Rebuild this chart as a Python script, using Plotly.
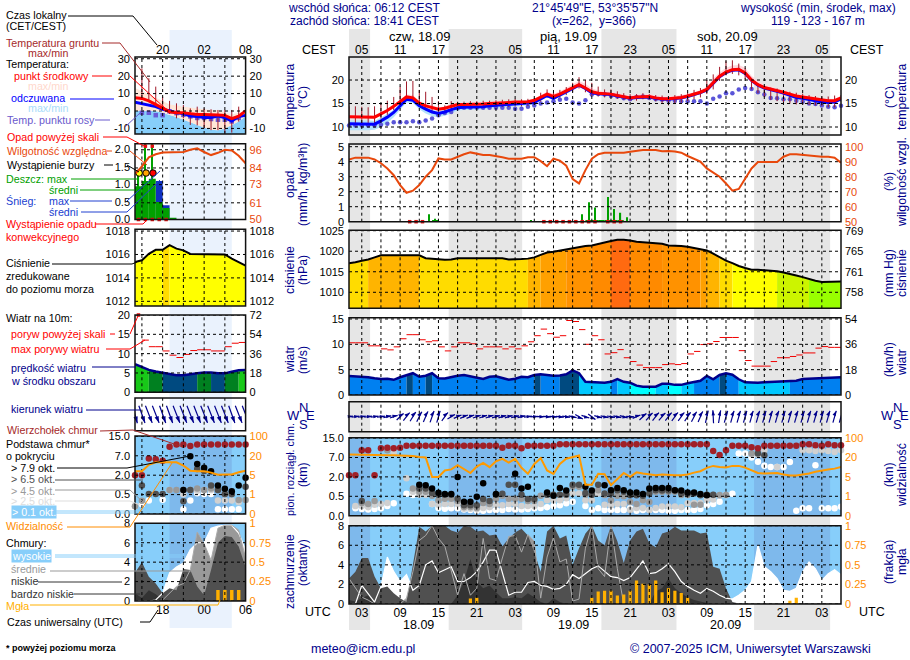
import numpy as np
import plotly.graph_objects as go

W, H = 910, 660
N = None

# hours counted from 18.09 00 UTC, main chart
hours = list(range(1, 79))
# hours counted from 17.09 00 UTC, small chart on the left
hours_s = list(range(14, 31))

night_start = [1, 16.6, 40.5, 64.4]
night_end = [4.3, 28.1, 52.25, 76.3]
night_start_s = [19]
night_end_s = [28]

# temperature
temp_mid = [12.2,12.2,12.2,12.2,12.1,12.8,13.5,14.4,15.4,16.4,16.2,15.1,14.5,14.1,13.8,14.0,14.4,14.8,14.8,14.8,14.8,14.9,15.0,15.1,15.2,15.3,15.3,15.3,15.4,15.7,16.4,17.0,16.5,17.0,17.7,18.4,19.0,18.3,17.5,17.2,17.1,17.0,16.7,16.4,16.2,16.4,16.5,16.5,16.2,16.0,16.0,16.1,16.3,16.6,17.0,17.4,18.0,19.5,20.8,21.7,22.2,22.3,21.5,20.0,19.0,18.4,18.1,17.7,17.4,17.0,16.6,16.4,16.2,16.0,15.7,15.6,15.6,16.2]
temp_max = [12.5,12.5,12.5,12.5,12.4,13.1,13.9,14.8,15.8,16.9,16.8,15.6,15.0,14.5,14.2,14.4,14.8,15.1,15.1,15.1,15.2,15.3,15.4,15.5,15.6,15.6,15.6,15.6,15.7,16.0,16.8,17.5,17.1,17.6,18.3,19.1,19.8,19.2,18.2,17.8,17.6,17.5,17.2,16.9,16.7,16.9,17.0,17.0,16.7,16.5,16.5,16.6,16.8,17.0,17.4,17.9,18.6,20.3,21.6,22.6,23.1,23.2,22.6,20.9,19.8,19.0,18.6,18.1,17.8,17.4,17.0,16.8,16.6,16.4,16.1,16.0,16.0,16.6]
temp_min = [11.9,11.9,11.9,11.9,11.8,12.5,13.2,14.0,15.0,16.0,15.8,14.7,14.1,13.7,13.5,13.7,14.0,14.5,14.5,14.5,14.5,14.6,14.7,14.8,14.9,15.0,15.0,15.0,15.1,15.4,16.1,16.6,16.1,16.6,17.2,17.9,18.5,17.8,17.0,16.8,16.7,16.6,16.3,16.0,15.8,16.0,16.1,16.1,15.8,15.6,15.6,15.7,15.9,16.2,16.6,17.0,17.6,19.0,20.3,21.2,21.7,21.8,21.0,19.5,18.6,18.0,17.7,17.4,17.1,16.7,16.3,16.1,15.9,15.7,15.4,15.3,15.3,15.9]
feels = [10.7,10.7,10.7,10.7,10.6,11.3,12.1,13.1,14.6,15.9,15.7,14.5,13.8,13.2,12.9,13.2,13.7,14.1,14.2,14.2,14.2,14.3,14.5,14.6,14.7,14.8,14.9,14.9,15.0,15.2,16.0,16.7,16.1,16.8,17.4,18.1,18.9,18.2,17.3,17.1,17.0,16.9,16.6,16.3,16.1,16.3,16.4,16.4,16.1,15.9,15.9,16.0,16.2,16.5,16.9,17.3,17.9,19.4,20.7,21.6,22.1,22.2,21.4,19.9,18.9,18.3,18.0,17.6,17.2,16.8,16.3,16.1,15.9,15.6,15.3,15.2,15.3,16.0]
feels_max = [11.4,11.4,11.4,11.4,11.3,12.0,12.8,13.7,15.1,16.3,16.1,15.0,14.2,13.7,13.4,13.7,14.1,14.4,14.5,14.5,14.5,14.6,14.8,14.9,15.0,15.1,15.2,15.2,15.3,15.5,16.3,17.0,16.5,17.1,17.7,18.5,19.3,18.6,17.7,17.4,17.3,17.2,16.9,16.6,16.4,16.6,16.7,16.7,16.4,16.2,16.2,16.3,16.5,16.8,17.2,17.6,18.2,19.7,21.0,21.9,22.4,22.5,21.7,20.2,19.2,18.6,18.3,17.9,17.5,17.1,16.6,16.4,16.2,15.9,15.6,15.5,15.6,16.3]
feels_min = [9.3,9.3,9.3,9.3,9.4,10.0,10.9,12.1,13.7,15.2,15.1,13.8,12.9,12.3,12.1,12.4,12.9,13.5,13.6,13.6,13.7,13.8,14.0,14.1,14.2,14.3,14.4,14.5,14.6,14.9,15.7,16.4,15.8,16.4,17.0,17.8,18.6,17.9,17.0,16.8,16.8,16.7,16.4,16.1,15.9,16.1,16.2,16.2,15.9,15.7,15.7,15.8,16.0,16.3,16.7,17.1,17.7,19.2,20.5,21.4,21.9,22.0,21.2,19.7,18.7,18.1,17.8,17.4,17.0,16.5,16.0,15.8,15.6,15.3,15.0,14.9,15.0,15.7]
dew = [10.3,10.3,10.3,10.3,10.3,10.5,10.7,11.0,11.0,11.0,11.2,11.0,11.4,11.8,12.5,13.0,13.2,14.0,14.1,14.1,14.1,14.1,14.1,14.1,14.1,14.1,13.9,13.9,14.3,14.6,15.0,15.2,15.5,15.8,16.0,15.2,15.0,15.7,16.9,17.0,16.9,16.6,16.5,16.1,15.9,16.4,16.5,16.2,15.9,15.8,15.6,15.6,15.5,15.5,15.5,15.5,15.0,16.0,16.5,17.2,17.2,18.0,18.3,18.1,17.4,16.9,16.2,16.1,15.9,15.9,15.6,15.4,15.0,14.9,14.6,14.3,14.2,14.5]
ground_max = [14.4,14.4,14.3,14.2,14.4,15.0,15.6,16.4,18.6,19.7,19.8,17.9,17.5,16.4,15.5,14.6,15.5,15.4,15.4,15.5,15.5,15.6,15.6,15.7,15.8,15.9,16.0,15.9,16.0,16.2,17.3,18.0,17.3,17.9,18.5,19.4,20.6,20.0,19.4,18.6,18.0,18.0,17.6,17.2,17.0,17.0,17.2,17.0,16.8,16.7,16.6,16.8,17.0,17.3,17.9,18.3,20.0,21.2,22.8,24.0,24.2,23.5,22.5,20.3,19.0,18.6,18.4,18.2,17.8,17.5,17.3,17.1,16.8,16.6,16.5,16.5,16.7,16.8]
ground_min = [10.4,10.4,10.4,10.5,10.8,11.8,12.6,13.6,14.7,15.7,15.6,14.4,13.6,13.2,13.0,13.4,13.8,14.0,14.0,14.0,14.0,14.1,14.2,14.2,14.3,14.3,14.4,14.4,14.5,14.8,15.4,16.2,16.0,16.2,16.8,17.5,18.2,17.4,16.6,16.5,16.3,16.3,16.0,15.8,15.6,15.6,15.9,15.9,15.5,15.0,14.6,15.0,15.2,15.5,15.9,16.3,17.0,18.0,19.8,21.0,21.3,21.0,20.3,18.0,17.2,16.4,15.8,15.5,15.2,15.0,14.8,14.8,14.7,14.6,14.5,14.2,14.2,15.4]

temp_mid_s = [7.6,7.2,5.8,3.8,1.5,-0.4,-1,-1,-1.5,-2,-2,-2,-2.3,-2.5,-4.4,-3,0]
temp_max_s = [13.2,11.4,9.5,7.6,5.7,3.8,3.2,2.5,2,1.5,1,0.6,0.6,-1,-2,-1,0]
feels_s = [5,4.3,3.6,2.5,1,0,-1,-1.5,-2.9,-3.2,-3.8,-3.8,-2.9,-3.8,-5.7,-3.2,-2.5]
feels_top_s = [0,0,0,0,-1,-2.3,-3.5,-5,-6.5,-8,-9.5,-10.8,-11,-10,-8,-6,-3]
dew_s = [N,-1,-1,-2.4,-2.4,-0.2,-1.2,-2.2,-3.1,-4,-4,-4.6,-5,-5,-6,-4,N]
ground_max_s = [N,24.5,18.8,14,8.2,5.8,4.4,3.4,1.5,2.5,1.5,1,0.6,0.6,0.6,2.5,N]
ground_min_s = [N,7.7,6.3,3.4,1,-1.7,-4.2,-4.2,-8,-8.2,-10,-11,-11,-12.8,-12.4,-6.1,N]

# precipitation, per hour interval
rain_max = [0,0,0,0,0,0,0,0,0,0,0,0,0.5,0.2,0.03,0,0,0,0,0,0,0,0,0,0,0,0,0,0.05,0,0,0,0,0,0,0,0.5,1.3,0.95,0.1,1.65,0.85,0.6,0.3,0,0,0,0,0,0,0,0,0,0,0,0,0,0,0,0,0,0,0,0,0,0,0,0,0,0,0,0,0,0,0,0,0]
rain_mean = [0,0,0,0,0,0,0,0,0,0,0,0,0,0.1,0,0,0,0,0,0,0,0,0,0,0,0,0,0,0,0,0,0,0,0,0,0,0,0.1,0.12,0.1,0.1,0.05,0.05,0,0,0,0,0,0,0,0,0,0,0,0,0,0,0,0,0,0,0,0,0,0,0,0,0,0,0,0,0,0,0,0,0,0]
conv_hours = [10.5,11.5,12.5,31.5,32.5,33.5,34.5,35.5,36.5,37.5,38.5,39.5,41.5,42.5,43.5]
humidity = [91.5,92.7,92.7,92.7,91.5,89,85.5,81,74.4,69.3,70.7,74.4,80,84.4,92.2,91.5,91.5,93.3,95,96.2,95.5,94.4,94.4,93.8,92.9,92,92,92,93,93,90.4,87,92,90.7,87.3,78.4,75.5,84.4,92,95,96,96,96,96,96.7,97.3,97.8,97.8,97.8,97,97.2,96.8,96,93.8,91.8,90,85.5,82.6,80,75.5,70.7,71.8,78.9,85.5,89.8,89.8,89.8,89.8,93.3,94.9,94.9,94.4,94,93.6,93.3,93.3,92.7,89.3]

rain_mean_s = [0.95,1.1,1.17,0.5,0.33,0.03,0,0,0,0,0,0,0,0,0,0]
snow_mean_s = [0,0,0,1.1,0.41,0,0,0,0,0,0,0,0,0,0,0]
rain_max_s = [1.4,3,3,0,0,0,0,0,0,0,0,0,0,0,0,0]
storm_hours_s = [14.6,15.6,16.6]
storm_colors_s = ["#ffff00","#ffa500","#ff0000"]
conv_hours_s = [14.5,15.5,16.5,17.5,18.5]
humidity_s = [80,85,91,93,94.2,94.5,94.6,94.6,96,97,94.5,92.5,94,96,95.5,92,87]

# pressure
pressure = [1017.1,1017.3,1017.7,1018,1018.5,1019,1019,1019,1019,1019,1019,1019,1018.3,1018.2,1018,1017.9,1018,1018.3,1018.3,1018.3,1018.3,1018.3,1018.3,1018.3,1018.3,1018,1018,1018.1,1018.2,1018.5,1019.1,1019.7,1019.9,1020.2,1020.5,1020.7,1021,1021.3,1021.4,1021.8,1022.1,1022.5,1022.8,1022.8,1022.6,1022.3,1022.2,1022.1,1022,1021.8,1021.4,1021.4,1021.3,1021.1,1020.8,1020.6,1020.2,1019.4,1018.5,1017.7,1017.1,1016.4,1015.9,1015.5,1015.5,1015.4,1015.3,1015.1,1014.8,1014.5,1014.1,1013.7,1013.2,1012.8,1012.5,1012.5,1012.6,1012.6]
pressure_s = [1015.35,1015.5,1016.05,1016.4,1016.4,1016.8,1016.5,1016.35,1016.05,1016.05,1016.05,1016.05,1016.05,1016,1015.65,1015.35,1015.05]

# wind
wind = [3.75,3.7,3.65,3.5,3.3,3.15,3.2,3,3.5,3.95,4.3,3.6,3.8,4.3,3.3,3.25,3.6,3.8,3.95,3.7,3.4,3.15,3.6,3.7,3.35,3,3.2,3.6,3.5,3.95,4.1,4.0,3.8,3.85,4.1,4.85,4.3,2.6,2.5,2.5,2.4,2.6,3.15,2.6,2.4,1.85,1.65,1.65,1.65,2.2,2.2,2,2,2.3,2.6,2.8,3.75,3.1,3.95,4.3,4.0,3.1,2.5,2.4,2.4,2.5,2.55,2.6,2.6,2.6,2.8,3.15,3.2,3.2,3.3,3.35,3.4,3.5]
gust = [10.3,10.3,10.3,9.7,9.7,9.1,8.9,9.5,11.1,11.9,11.9,10.9,10.5,10.7,9.5,8.7,9.5,10.3,10.3,10.1,9.1,9.5,9.5,9.5,9.1,9.5,9.1,9.7,10.5,11.7,13.0,12.1,11.4,11.7,14.7,14.5,12.9,10.0,11.7,10.9,8.1,8.35,8.95,7.35,6.6,5.9,5.4,5.4,5.4,6.0,6.15,6.0,6.2,8.1,8.6,9.95,10.1,10.55,11.35,11.35,11.35,8.75,6.8,5.7,5.7,5.7,6.6,7.35,7.35,7.6,7.9,8.3,8.3,9.25,9.55,9.4,9.4]
wind_dir = [265,265,265,265,265,265,262,258,240,232,225,220,215,210,205,230,250,255,255,255,258,258,258,260,260,260,262,262,265,268,270,272,272,274,275,278,290,282,295,280,278,276,278,280,272,255,240,235,232,235,232,230,230,228,220,215,200,175,195,205,205,205,205,205,205,205,205,205,205,205,205,205,205,205,205,205,205,205]

wind_s = [7.3,6.5,5.8,5.4,5.1,4.7,4.4,4.4,4.7,4.9,5.1,5.1,4.9,4.9,5.3,5.7,5.8]
gust_s = [21,13.5,11.8,11.8,10.7,9.6,9,9.8,10.8,11,11,10.7,10.7,11.8,12.7,12.9]
wind_dir_s = [345,340,338,338,340,340,338,338,338,338,338,338,338,338,340,338,338]

# cloud tops and bases (km), visibility (km)
cloud_top = [2.4,2.4,10,10,2.4,10.8,11,10.8,11,11.8,11.8,11.8,11.8,11.8,11.8,11.8,11.8,11.8,11.8,11.8,11.8,11.8,11.8,11.8,11,11.8,11.8,10.8,11.8,11.8,11.8,11.8,11.8,12.5,12.5,12.5,12.5,12.5,12.5,12.5,12.5,12.5,12.5,12.5,12.5,12.5,12.5,12.5,12.5,12.5,12.5,12.5,12.5,12.5,12.5,12.5,12.5,9.7,8,10,11.8,11.8,11.8,11.2,10.8,11.8,11.8,11.8,11.8,11.8,11.8,12.5,12.5,12,11.8,12.5,12,12]
base_79 = [N,N,N,N,N,N,N,N,N,N,N,1.4,1.36,1.1,.77,.68,.68,2,.36,.36,.49,1.5,N,.68,N,N,2.8,1.1,1.23,N,N,.8,.55,1.15,.95,N,N,1.23,.95,N,1.36,.97,1.15,.97,.8,.8,.68,1.1,1.15,1.15,1.15,.97,.95,.8,.8,.68,.59,N,N,N,N,N,N,N,N,N,N,N,N,N,N,N,N,N,N,N,N,N]
base_65 = [N,N,.38,N,N,N,N,N,N,N,N,1.1,1.1,.75,.62,.62,.62,.44,.27,.27,.27,.43,.38,.62,.7,1.4,1.4,.62,.43,.43,N,.62,.62,.62,.62,1.4,1.4,.75,.62,1.4,.72,.72,.97,.85,.59,.59,.55,.72,.97,.95,.95,.95,.72,.72,.72,.59,.62,.62,N,N,N,N,N,N,8.6,7.9,N,N,N,N,N,N,N,N,N,N,N,N]
base_45 = [N,N,.33,.3,.38,N,10,N,N,N,1.1,.85,.85,.55,.4,.44,.44,.38,.22,.22,.2,.33,.3,.44,.55,.44,.44,.44,.38,.38,.55,.62,.62,.62,.72,1.23,1.23,.62,.62,.97,.6,.4,.55,.5,.35,.3,.4,.35,.85,.85,.85,.85,.6,.6,.28,.28,.6,.6,.6,.6,N,N,N,8.6,9,N,N,N,N,N,N,N,N,N,N,N,N,N]
base_25 = [N,.25,.25,.22,.28,.3,.33,9.2,N,1.9,.85,.62,.62,.3,.28,.3,.3,.3,.18,.18,.17,.2,.22,.28,.27,.3,.3,.25,.25,.25,.3,.4,.4,.4,.45,.72,.72,.4,.4,.72,.28,.27,.3,.3,.15,.2,.2,.15,.2,.24,.24,.24,.22,.32,.33,.33,.42,.42,.55,.6,N,N,N,8.3,8,10,N,4.55,N,N,N,10,10,9.7,10,9.7,9.3,10]
base_01 = [N,.19,.17,.16,.17,.19,.25,.32,N,.7,.6,.72,.9,.3,.2,.18,.19,.19,.16,.15,.13,.13,.15,.15,.15,.17,.16,.16,.17,.19,.2,.22,.25,.27,.32,.36,N,.25,.15,.19,.15,.15,.15,.15,.19,.13,.15,.15,.15,.15,.13,.13,.15,.15,.15,.17,.27,.3,.36,.6,.7,8.6,8.6,7,5.9,4.9,4.55,4.55,4.55,5.85,.13,.19,.19,5,.19,.19,.19,.23]
visibility = [32,31,30,30,30,29,29,29,28,28,26,22,20,5,5,10,10.8,14,10.8,8,13,15.8,12.5,17,19,16,19,12,7.4,15,19.5,10,7.3,15,19,22,28,3.4,3.4,7.4,7,3.3,4.6,8,5.1,8.5,7.6,6.8,6.3,6.8,6.3,6.3,6.3,6.8,8.3,9.4,12,13.5,12.7,12.2,13.5,13.5,12.2,10,8,7.6,7.6,8,6.8,6,6,6.8,7.6,9,10,10.7,11.4,12.7]

cloud_top_s = [2,2,6.3,6.1,5.7,10.7,11.7,11.7,11,11.7,11.7,11.7,11.7,11.7,11.7,11.7,11.7]
base_79_s = [N,N,N,N,N,N,N,.85,6.9,4.9,3.9,3,1.2,.95,.75,1.2,1.8]
base_65_s = [N,1.2,.55,.55,.55,N,N,.33,.85,3.6,3.1,1.2,.85,.55,.55,N,1.1]
base_45_s = [.2,.34,N,N,N,.85,.85,.85,.85,.97,.85,.97,.85,.55,.53,.36,.36]
base_25_s = [.2,N,N,N,N,.85,N,.53,.85,.8,.85,.85,.35,.35,.35,.3,N]
base_01_s = [N,.25,.35,N,.37,N,N,.12,.35,.6,.55,.55,.12,.12,.12,.12,N]
visibility_s = [8,8,13,15,15,15,15,12.5,8.5,8,8,7,5.3,5.5,5.5,7.3,8.4]

# cloud cover (oktas), fog fraction
cloud_high = [0,0,1.9,1.1,0.2,1.8,4.8,3.3,2.3,3,1.4,1.9,4,4.4,3.2,3.5,3.8,2.3,2.3,2.7,3.3,4.3,5.5,5.5,3.1,0.9,1.2,1.2,2.2,2.3,1.9,1.8,1.5,1.6,2,3,2.6,3.1,3.6,3.9,3.3,2.8,2.7,2.4,2.7,3.6,4.4,3.1,3.2,3.6,4.1,3.3,2.3,1.8,1.4,1.1,1.6,1.3,0.9,0.6,0.5,0.9,1.4,2.3,6,3.8,3.3,2.6,1.4,1.3,1.6,3.3,4.3,3.6,2.4,3.1,3.5,3]
cloud_mid = [2.6,1.6,0.7,0.4,0,0,0,0,0,0.6,3.3,6.5,7,8,6.7,5.9,3.3,0.9,3.1,0.9,1.6,6.7,2.6,2.4,4.7,6.9,7,5.3,7.1,6.4,0.6,4.8,6.8,4.3,4.6,0.3,0.5,5.7,8,3.6,2.8,8,3.6,0,0,0,0,0,0,0,0,0,0,0,0,0,0,0,0,0,0,0,0,0,0,0,0,0,0,0,0,0,0,0,0,0,0,0]
cloud_low = [2.6,3.3,4.7,4.7,2.8,1.6,1.8,1.1,0.6,0.2,4,7.9,7.4,8,8,8,7.5,7.3,8,7.9,7.4,7.5,7,7.1,5.9,6.7,7.3,7.7,7,5.3,3.3,7.4,8,6.7,7,4,5.7,7.2,8,6.5,6,8,6.4,4.2,6.5,7.4,7.7,6.2,5.8,7.2,7.4,7.9,7.5,7.5,7.5,7.2,7.3,3.8,3.6,1.6,0.2,0.05,0.05,0.05,0.05,0.05,0.05,0.05,0.05,0.05,0.05,0.05,0.05,0.05,0.05,0.05,0.05,0.1]
cloud_vlow = [0.4,0.25,0.6,0.9,0,0,0,0,0,0,0,0,0,0,0,0,0,0.9,2.3,4.6,2.3,1.6,1.9,1.2,0.6,0.6,0.7,0.6,1.1,0.7,0.2,0,0.6,0.2,0,0,0,0,0,0,0,0,0,0,0,0,0,0,1.3,1.6,2.6,1.6,1.1,0.7,0.4,0.25,0.1,0,0,0,0,0,0,0,0,0,0,0,0,0,0,0,0,0,0,0,0,0]
fog = [0,0,0,0,0,0,0,0,0,0,0,0,0,0,0,0,0,0,0,.07,.08,0,0,0,0,0,0,0,0,0,0,0,0,0,0,0,0,0,.08,.16,.17,.17,.11,.12,.17,.3,.26,.25,.3,.15,.2,.17,.14,.08,0,0,0,0,0,0,0,0,0,0,0,0,0,0,0,.04,.08,0,0,0,0,0,0,0]

cloud_high_s = [0,0,0,0.1,0.8,2.9,3.5,3.9,5.3,6,6,7.5,7.7,7.8,7.8,7,5.3]
cloud_mid_s = [0,0,0,0,0.1,0.8,1.5,1.8,3.2,7.1,5.9,4.2,7.5,7.8,7.8,7.3,4.4]
cloud_low_s = [2.9,4,2.5,1.8,0.8,1.3,1.1,3.3,3.2,1.5,0.6,3.2,6,6.7,6.6,5.6,3.5]
cloud_vlow_s = [0.8,0.3,1.1,0.7,0.1,0,0,0,0,0,0,0,0,0,0,0,0]
fog_s = [0,0,0,0,0,0,0,0,0,0,0,0,.14,.14,.14,.14,0]

# tick labels
local_ticks = [3,9,15,21,27,33,39,45,51,57,63,69,75]
local_text = ["05","11","17","23","05","11","17","23","05","11","17","23","05"]
utc_text = ["03","09","15","21","03","09","15","21","03","09","15","21","03"]
local_ticks_s = [18,24,30]
local_text_s = ["20","02","08"]
utc_text_s = ["18","00","06"]
grid_hours = list(range(3, 78, 3))
grid_hours_s = [15,18,21,24,27]
height_levels = [0,0.5,2,7,15]
height_text = ["0.0","0.5","2.0","7.0","15.0"]
vis_levels = [0,1,5,20,100]
vis_text = ["0","1","5","20","100"]

FONT = "Liberation Sans"
NAVY = "#00008c"
SKY = "#87cefa"
RHC = "#e8480c"
ORG = "#ff8c00"

for name, arr, n in [("temp_mid",temp_mid,78),("temp_max",temp_max,78),("temp_min",temp_min,78),("feels",feels,78),
                     ("feels_max",feels_max,78),("feels_min",feels_min,78),("dew",dew,78),("ground_max",ground_max,78),
                     ("ground_min",ground_min,78),("rain_max",rain_max,77),("rain_mean",rain_mean,77),("humidity",humidity,78),
                     ("pressure",pressure,78),("wind",wind,78),("gust",gust,77),("wind_dir",wind_dir,78),("cloud_top",cloud_top,78),
                     ("base_79",base_79,78),("base_65",base_65,78),("base_45",base_45,78),("base_25",base_25,78),("base_01",base_01,78),
                     ("visibility",visibility,78),("cloud_high",cloud_high,78),("cloud_mid",cloud_mid,78),("cloud_low",cloud_low,78),
                     ("cloud_vlow",cloud_vlow,78),("fog",fog,78)]:
    assert len(arr) == n, (name, len(arr))

fig = go.Figure()
layout = {}
shapes = []
annots = []
panel_count = 0


def px(x):
    return x / W


def py(y):
    return 1 - y / H


def add_panel(x0, x1, y0, y1, x_range, y_range, y_ticks, y_text, r_range, r_ticks, r_text, r_color="black"):
    global panel_count
    panel_count += 1
    i = panel_count
    yl, yr = 2 * i - 1, 2 * i
    tick = dict(family=FONT, size=11)
    layout[f"xaxis{i}"] = dict(domain=[px(x0), px(x1)], range=x_range, anchor=f"y{yl}", showgrid=False, automargin=False,
                               zeroline=False, showticklabels=False, ticks="")
    layout[f"yaxis{yl}"] = dict(domain=[py(y1), py(y0)], range=y_range, anchor=f"x{i}", showgrid=False, zeroline=False, automargin=False,
                                tickvals=y_ticks, ticktext=y_text, ticks="", ticklabelstandoff=4, tickfont=dict(color="black", **tick))
    layout[f"yaxis{yr}"] = dict(domain=[py(y1), py(y0)], range=r_range, anchor=f"x{i}", overlaying=f"y{yl}", side="right",
                                showgrid=False, zeroline=False, automargin=False, tickvals=r_ticks, ticktext=r_text, ticks="",
                                ticklabelstandoff=3, tickfont=dict(color=r_color, **tick))
    return dict(x=f"x{i}", y=f"y{yl}", r=f"y{yr}", xkey=f"xaxis{i}", box=(x0, x1, y0, y1), r_ticks=r_ticks,
                x_range=x_range, r_range=r_range)


def grid(p, hours_list, with_h=True):
    xs, ys = [], []
    for h in hours_list:
        xs += [h, h, None]
        ys += [p["r_range"][0], p["r_range"][1], None]
    if with_h:
        for v in p["r_ticks"]:
            xs += [p["x_range"][0], p["x_range"][1], None]
            ys += [v, v, None]
    fig.add_trace(go.Scatter(x=xs, y=ys, xaxis=p["x"], yaxis=p["r"], mode="lines", hoverinfo="skip",
                             line=dict(color="black", width=1, dash="3px,3px")))


def band(p, x, hi, lo, color):
    x = list(x)
    fig.add_trace(go.Scatter(x=x + x[::-1], y=list(hi) + list(lo)[::-1], xaxis=p["x"], yaxis=p["y"], mode="none",
                             fill="toself", fillcolor=color, hoverinfo="skip"))


def line(p, x, y, color, width, axis="y"):
    fig.add_trace(go.Scatter(x=list(x), y=list(y), xaxis=p["x"], yaxis=p[axis], mode="lines", hoverinfo="skip",
                             line=dict(color=color, width=width)))


def dots(p, x, y, color, size, symbol="circle", axis="y"):
    fig.add_trace(go.Scatter(x=list(x), y=list(y), xaxis=p["x"], yaxis=p[axis], mode="markers", hoverinfo="skip",
                             cliponaxis=False, marker=dict(color=color, size=size, symbol=symbol, line=dict(width=0))))


def bars(p, x, y, color, width, axis="y", base=None):
    fig.add_trace(go.Bar(x=list(x), y=list(y), xaxis=p["x"], yaxis=p[axis], width=width, base=base, hoverinfo="skip",
                         marker=dict(color=color, line=dict(width=0))))


def stems(p, x, hi, lo, color, width=1):
    xs, ys = [], []
    for a, b, c in zip(x, hi, lo):
        if b is None or c is None:
            continue
        xs += [a, a, None]
        ys += [b, c, None]
    line(p, xs, ys, color, width)


def cell_fill(p, x, y, color_of, base):
    # one polygon per run of hours falling in the same colour class
    cols = [color_of(v) for v in y[1:]]
    s = 0
    for e in range(1, len(cols) + 1):
        if e == len(cols) or cols[e] != cols[s]:
            rx, ry = list(x[s:e + 1]), list(y[s:e + 1])
            band(p, rx, ry, [base] * len(ry), cols[s])
            s = e


def pressure_color(v):
    limits = [1013, 1015, 1016.7, 1018.3, 1019.5, 1020.5, 1021.5, 1022.55]
    palette = ["#99ff00", "#ccf400", "#ffff00", "#ffdc00", "#ffb400", "#ffa000", "#ff9200", "#ff8a00", "#ff6a10"]
    return palette[int(np.searchsorted(limits, v))]


def wind_color(v):
    limits = [2.1, 2.75, 4.0, 5.0, 5.75]
    palette = ["#00ffff", "#00c8ff", "#0080f0", "#004a80", "#008020", "#18c818"]
    return palette[int(np.searchsorted(limits, v))]


def wind_arrows(p, x, dirs, px_per_hour, lx, ly, head):
    toward = (np.array(dirs, dtype=float) + 180) % 360
    dx = np.sin(np.radians(toward)) * lx / px_per_hour
    dy = np.cos(np.radians(toward)) * ly
    xs, ys = [], []
    for a, b, c in zip(x, dx, dy):
        xs += [a - b / 2, a + b / 2, None]
        ys += [-c / 2, c / 2, None]
    fig.add_trace(go.Scatter(x=xs, y=ys, xaxis=p["x"], yaxis=p["y"], mode="lines", hoverinfo="skip", cliponaxis=False,
                             line=dict(color="#00008c", width=1.2)))
    fig.add_trace(go.Scatter(x=list(np.array(x) + dx / 2), y=list(dy / 2), xaxis=p["x"], yaxis=p["y"], mode="markers",
                             hoverinfo="skip", cliponaxis=False,
                             marker=dict(symbol="arrow", size=head, angle=list(toward), color="#00008c", line=dict(width=0))))


def gust_segments(x, g, cap):
    xs, ys = [], []
    for a, v in zip(x, g):
        if v > cap:
            continue
        xs += [a, a + 1, None]
        ys += [v, v, None]
    return xs, ys


def rect(box, color, layer="below", line_color=None, width=0):
    x0, x1, y0, y1 = box
    shapes.append(dict(type="rect", xref="paper", yref="paper", x0=px(x0), x1=px(x1), y0=py(y1), y1=py(y0),
                       fillcolor=color, layer=layer, line=dict(color=line_color or color, width=width)))


def text(x, y, s, color="black", anchor="left", size=12, angle=0, bg=None, bold=False):
    annots.append(dict(x=px(x), y=py(y), xref="paper", yref="paper", text=f"<b>{s}</b>" if bold else s, showarrow=False,
                       xanchor=anchor, yanchor="middle", textangle=angle, bgcolor=bg, borderpad=0,
                       font=dict(family=FONT, size=size, color=color)))


def lead(pts, color, width=1):
    path = "M " + " L ".join(f"{px(a)} {py(b)}" for a, b in pts)
    shapes.append(dict(type="path", xref="paper", yref="paper", path=path, layer="above", line=dict(color=color, width=width)))


# panels
mx0, mx1 = 349, 841
sx0, sx1 = 135, 245.6
mr = [1, 78]
sr = [14, 30]

t_m = add_panel(mx0, mx1, 57, 135, mr, [8.3, 24.9], [10,15,20], ["10","15","20"], [8.3, 24.9], [10,15,20], ["10","15","20"])
p_m = add_panel(mx0, mx1, 144, 221.7, mr, [0, 5.18], [0,1,2,3,4,5], ["0","1","2","3","4","5"], [50, 101.8], [50,60,70,80,90,100], ["50","60","70","80","90","100"], RHC)
c_m = add_panel(mx0, mx1, 230.3, 308.3, mr, [1006.1, 1025.1], [1010,1015,1020,1025], ["1010","1015","1020","1025"], [1006.1, 1025.1], [1010,1015,1020,1025], ["758","761","765","769"])
w_m = add_panel(mx0, mx1, 317.7, 395, mr, [0, 15.25], [0,5,10,15], ["0","5","10","15"], [0, 15.25], [0,5,10,15], ["0","18","36","54"])
d_m = add_panel(mx0, mx1, 401.7, 431.7, mr, [-15, 15], [], [], [-15, 15], [], [])
b_m = add_panel(mx0, mx1, 437.7, 515.7, mr, [0, 4.02], [0,1,2,3,4], height_text, [0, 4.02], [0,1,2,3,4], vis_text, ORG)
k_m = add_panel(mx0, mx1, 525.7, 604, mr, [0, 8], [0,2,4,6,8], ["0","2","4","6","8"], [0, 1], [0,.25,.5,.75,1], ["0","0.25","0.5","0.75","1"], ORG)

t_s = add_panel(sx0, sx1, 57, 134, sr, [-13.2, 31], [-10,0,10,20,30], ["-10","0","10","20","30"], [-13.2, 31], [-10,0,10,20,30], ["-10","0","10","20","30"])
p_s = add_panel(sx0, sx1, 143.7, 219.5, sr, [0, 2.17], [0,.5,1,1.5,2], ["0.0","0.5","1.0","1.5","2.0"], [50, 100], [50,61,73,84,96], ["50","61","73","84","96"], RHC)
c_s = add_panel(sx0, sx1, 229.3, 306, sr, [1011.6, 1018.15], [1012,1014,1016,1018], ["1012","1014","1016","1018"], [1011.6, 1018.15], [1012,1014,1016,1018], ["1012","1014","1016","1018"])
w_s = add_panel(sx0, sx1, 315, 392.3, sr, [0, 20], [0,5,10,15,20], ["0","5","10","15","20"], [0, 20], [0,5,10,15,20], ["0","18","36","54","72"])
d_s = add_panel(sx0, sx1, 398, 430.7, sr, [-16, 16], [], [], [-16, 16], [], [])
b_s = add_panel(sx0, sx1, 436, 514, sr, [0, 4.02], [0,1,2,3,4], height_text, [0, 4.02], [0,1,2,3,4], vis_text, ORG)
k_s = add_panel(sx0, sx1, 523.3, 601, sr, [0, 8], [0,2,4,6,8], ["0","2","4","6","8"], [0, 1], [0,.25,.5,.75,1], ["0","0.25","0.5","0.75","1"], ORG)

for p, ticks, labels, side in [(t_m, local_ticks, local_text, "top"), (k_m, local_ticks, utc_text, "bottom"),
                               (t_s, local_ticks_s, local_text_s, "top"), (k_s, local_ticks_s, utc_text_s, "bottom")]:
    layout[p["xkey"]].update(showticklabels=True, tickvals=ticks, ticktext=labels, side=side,
                             tickfont=dict(family=FONT, size=12, color="black"))

main_panels = [t_m, p_m, c_m, w_m, d_m, b_m, k_m]
small_panels = [t_s, p_s, c_s, w_s, d_s, b_s, k_s]


def hour_x(h):
    return mx0 + (h - 1) * (mx1 - mx0) / 77


def hour_xs(h):
    return sx0 + (h - 14) * (sx1 - sx0) / 16


# night bands, full height behind the panels
for a, b in zip(night_start, night_end):
    rect((hour_x(a), hour_x(b), 29, 630), "#e6e6e6")
for a, b in zip(night_start_s, night_end_s):
    rect((hour_xs(a), hour_xs(b), 30, 628), "#eaf2fd")

# sky coloured cloud panels with the night showing through
for p, starts, ends, conv in [(b_m, night_start, night_end, hour_x), (k_m, night_start, night_end, hour_x),
                              (b_s, night_start_s, night_end_s, hour_xs), (k_s, night_start_s, night_end_s, hour_xs)]:
    rect(p["box"], SKY)
    for a, b in zip(starts, ends):
        rect((conv(a), conv(b), p["box"][2], p["box"][3]), "#7eb9ec")

# main chart
band(t_m, hours, feels_max, feels_min, "#b4e2fb")
band(t_m, hours, temp_max, temp_min, "#ffd6dc")
dots(t_m, hours, dew, "#5a55d8", 4.5)
stems(t_m, hours, ground_max, ground_min, "#a01828")
line(t_m, hours, feels, "#0000ff", 3)
line(t_m, hours, temp_mid, "#ff0000", 3)
grid(t_m, grid_hours)

bars(p_m, [h + 0.5 for h in hours[:-1]], rain_mean, "#00a000", 1)
bars(p_m, [h + 0.5 for h in hours[:-1]], rain_max, "#00a000", 0.18)
grid(p_m, grid_hours)
line(p_m, hours, humidity, RHC, 2, axis="r")
dots(p_m, conv_hours, [0] * len(conv_hours), "#e01010", 3.5, "square")

cell_fill(c_m, hours, pressure, pressure_color, 1006.1)
line(c_m, hours, pressure, "#000000", 2)
grid(c_m, grid_hours)

cell_fill(w_m, hours, wind, wind_color, 0)
line(w_m, hours, wind, "#00008c", 2.5)
gx, gy = gust_segments(hours, gust, 15.25)
line(w_m, gx, gy, "#f00000", 1)
grid(w_m, grid_hours)

grid(d_m, grid_hours, with_h=False)
wind_arrows(d_m, hours, wind_dir, 6.39, 8, 13, 5.5)


def to_height(values):
    arr = np.array([np.nan if v is None else v for v in values], dtype=float)
    out = np.interp(arr, height_levels, [0, 1, 2, 3, 4])
    out[np.isnan(arr)] = np.nan
    return out


def to_vis(values):
    return np.interp(values, vis_levels, [0, 1, 2, 3, 4])


for p, x, top, b79, b65, b45, b25, b01, vis, size in [
    (b_m, hours, cloud_top, base_79, base_65, base_45, base_25, base_01, visibility, 6.5),
    (b_s, hours_s, cloud_top_s, base_79_s, base_65_s, base_45_s, base_25_s, base_01_s, visibility_s, 6.5),
]:
    dots(p, x, to_height(b01), "#ffffff", size)
    dots(p, x, to_height(b25), "#d0d0d0", size)
    dots(p, x, to_height(b45), "#999999", size)
    dots(p, x, to_height(b65), "#505050", size)
    dots(p, x, to_height(b79), "#000000", size)
    dots(p, x, to_height(top), "#a02028", size)
    grid(p, grid_hours if p is b_m else grid_hours_s)
    line(p, x, to_vis(vis), "#ff9a00", 2, axis="r")

for p, x, high, mid, low, vlow, fg, fw in [
    (k_m, hours, cloud_high, cloud_mid, cloud_low, cloud_vlow, fog, 0.5),
    (k_s, hours_s, cloud_high_s, cloud_mid_s, cloud_low_s, cloud_vlow_s, fog_s, 0.5),
]:
    band(p, x, high, [0] * len(x), "#ffffff")
    band(p, x, mid, [0] * len(x), "#999999")
    band(p, x, low, [0] * len(x), "#505050")
    band(p, x, vlow, [0] * len(x), "#333333")
    line(p, x, high, "#ffffff", 1.2)
    line(p, x, mid, "#aaaaaa", 1)
    grid(p, grid_hours if p is k_m else grid_hours_s)
    bars(p, x, fg, "#ffb000", fw, axis="r")

# small chart
band(t_s, hours_s, feels_top_s, [-14] * 17, "#87cefa")
band(t_s, hours_s, temp_max_s, feels_top_s, "#ffe6d8")
dots(t_s, hours_s, dew_s, "#6a5ad8", 4.5, "square")
stems(t_s, hours_s, ground_max_s, ground_min_s, "#a01828")
line(t_s, hours_s, feels_s, "#0000ff", 3)
line(t_s, hours_s, temp_mid_s, "#ff0000", 3)
grid(t_s, grid_hours_s)

sx_mid = [h + 0.5 for h in hours_s[:-1]]
bars(p_s, sx_mid, snow_mean_s, "#1030c0", 1)
bars(p_s, sx_mid, [min(a, 0.5) if b > 0 else a for a, b in zip(rain_mean_s, snow_mean_s)], "#00a000", 1)
bars(p_s, sx_mid, rain_max_s, "#00a000", 0.18)
grid(p_s, grid_hours_s)
line(p_s, hours_s, humidity_s, RHC, 2, axis="r")
dots(p_s, conv_hours_s, [0] * 5, "#e01010", 3.5, "square")
dots(p_s, [h for h, v in zip(sx_mid, rain_max_s) if v > 2.17], [2.1] * 2, "#e01010", 3.5, "square")
fig.add_trace(go.Scatter(x=storm_hours_s, y=[1.33] * 3, xaxis=p_s["x"], yaxis=p_s["y"], mode="markers", hoverinfo="skip",
                         marker=dict(size=6.5, color=storm_colors_s, line=dict(color="black", width=1))))

cell_fill(c_s, hours_s, pressure_s, pressure_color, 1011.6)
line(c_s, hours_s, pressure_s, "#000000", 2)
grid(c_s, grid_hours_s)

cell_fill(w_s, hours_s, wind_s, wind_color, 0)
line(w_s, hours_s, wind_s, "#00008c", 2.5)
gx, gy = gust_segments(hours_s, gust_s, 20)
line(w_s, gx, gy, "#f00000", 1)
dots(w_s, [h + 0.5 for h, v in zip(hours_s, gust_s) if v > 20], [20], "#e01010", 3.5, "square")
grid(w_s, grid_hours_s)

grid(d_s, grid_hours_s, with_h=False)
wind_arrows(d_s, hours_s, wind_dir_s, 6.9, 18, 18, 7)

# panel frames
for p in main_panels + small_panels:
    rect(p["box"], "rgba(0,0,0,0)", layer="above", line_color="#111111", width=1.5)

# header and footer
text(364, 8, "wschód słońca: 06:12 CEST", NAVY, "center")
text(364, 21, "zachód słońca: 18:41 CEST", NAVY, "center")
text(595, 8, "21°45'49\"E, 53°35'57\"N", NAVY, "center")
text(594, 21, "(x=262,  y=366)", NAVY, "center")
text(818, 8, "wysokość (min, środek, max)", NAVY, "center")
text(818, 21, "119 - 123 - 167 m", NAVY, "center")
text(319, 50, "CEST", "black", "center", 12.5)
text(867, 50, "CEST", "black", "center", 12.5)
text(419, 37, "czw, 18.09", "black", "center", 13)
text(568, 37, "pią, 19.09", "black", "center", 13)
text(727, 37, "sob, 20.09", "black", "center", 13)
text(318, 612, "UTC", "black", "center", 12.5)
text(872, 612, "UTC", "black", "center", 12.5)
text(418, 625, "18.09", "black", "center", 12.5)
text(573, 625, "19.09", "black", "center", 12.5)
text(725, 625, "20.09", "black", "center", 12.5)
text(363, 649, "meteo@icm.edu.pl", NAVY, "center", 12.5)
text(750, 649, "© 2007-2025 ICM, Uniwersytet Warszawski", NAVY, "center", 12.5)

# rotated titles
for x, y, s, size in [(290, 97, "temperatura", 12.3), (303, 97, "(°C)", 12.3), (290, 184, "opad", 12.3), (303, 185, "(mm/h, kg/m³h)", 12.3),
                      (290, 270, "ciśnienie", 12.3), (303, 270, "(hPa)", 12.3), (290, 360, "wiatr", 12.3), (303, 360, "(m/s)", 12.3),
                      (290, 470, "pion. rozciągł. chm.", 10.8), (303, 475, "(km)", 12.3), (290, 572, "zachmurzenie", 12), (303, 563, "(oktanty)", 12),
                      (890, 97, "(°C)", 12.3), (902, 97, "temperatura", 12.3), (889, 182, "(%)", 12.3), (902, 182, "wilgotność wzgl.", 12.3),
                      (889, 273, "(mm Hg)", 12.3), (902, 273, "ciśnienie", 12.3), (889, 360, "(km/h)", 12.3), (902, 363, "wiatr", 12.3),
                      (889, 475, "(km)", 12.3), (902, 475, "widzialność", 12.3), (889, 562, "(frakcja)", 12.3), (902, 562, "mgła", 12.3)]:
    text(x, y, s, NAVY, "center", size, -90)

# compass roses
for ox in (293, 887):
    text(ox, 416, "W", NAVY, "center", 13)
    text(ox + 10, 407, "N", NAVY, "center", 13)
    text(ox + 10, 424, "S", NAVY, "center", 13)
    text(ox + 17, 415, "E", NAVY, "center", 13)

# legend of the small chart
BRN = "#a52a2a"
legend_rows = [
    (5, 15, "Czas lokalny", "black"), (5, 26, "(CET/CEST)", "black"),
    (5, 43, "Temperatura gruntu", BRN), (27, 53, "max/min", BRN),
    (5, 64, "Temperatura:", "black"), (13, 76, "punkt środkowy", "#ff0000"), (27, 86, "max/min", "#ffd8cc"),
    (10, 98, "odczuwana", "#0000ff"), (27, 108, "max/min", "#a8dcfa"), (6, 120, "Temp. punktu rosy", "#6a5acd"),
    (6, 137, "Opad powyżej skali", "#ff0000"), (6, 151, "Wilgotność względna", RHC), (6, 165, "Wystąpienie burzy", "black"),
    (5, 179, "Deszcz: max", "#00a000"), (48, 190, "średni", "#00a000"), (5, 201, "Śnieg:", "#2040d0"), (48, 201, "max", "#2040d0"),
    (48, 212, "średni", "#2040d0"), (5, 224, "Wystąpienie opadu", "#ff0000"), (5, 237, "konwekcyjnego", "#ff0000"),
    (5, 263, "Ciśnienie", "black"), (5, 276, "zredukowane", "black"), (5, 289, "do poziomu morza", "black"),
    (5, 318, "Wiatr na 10m:", "black"), (10, 334, "poryw powyżej skali", "#ff0000"), (10, 349, "max porywy wiatru", "#ff0000"),
    (10, 368, "prędkość wiatru", "#00008c"), (10, 381, "w środku obszaru", "#00008c"), (10, 409, "kierunek wiatru", "#00008c"),
    (6, 430, "Wierzchołek chmur", BRN), (5, 444, "Podstawa chmur*", "black"), (5, 456, "o pokryciu", "black"),
    (10, 468, "&gt; 7.9 okt.", "black"), (10, 479, "&gt; 6.5 okt.", "#505050"), (10, 491, "&gt; 4.5 okt.", "#999999"), (10, 501, "&gt; 2.5 okt.", "#dddddd"),
    (5, 526, "Widzialność", ORG), (5, 543, "Chmury:", "black"), (10, 569, "średnie", "#999999"), (10, 581, "niskie", "#333333"),
    (10, 594, "bardzo niskie", "#333333"), (5, 606, "Mgła", "#ffb000"), (6, 622, "Czas uniwersalny (UTC)", "black"),
]
for x, y, s, c in legend_rows:
    text(x, y, s, c, size=10.7)
text(11, 512, "&gt; 0.1 okt.", "white", bg=SKY, size=10.7)
text(11, 556, "wysokie", "white", bg=SKY, size=10.7)
text(5, 648, "* powyżej poziomu morza", "black", size=9, bold=True)

lead([(68, 16), (133, 16), (157, 45)], "black")
lead([(102, 43), (120, 43), (150, 82)], BRN)
lead([(92, 76), (112, 76)], "#ff0000")
lead([(130, 76), (167, 110)], "#ff0000")
lead([(70, 99), (114, 99)], "#0000ff")
lead([(95, 120), (110, 120)], "#6a5acd")
lead([(125, 127), (140, 113)], "#6a5acd")
lead([(103, 137), (127, 137), (146, 147)], "#ff0000")
lead([(107, 151), (112, 151)], RHC)
lead([(130, 151), (147, 165)], RHC)
lead([(104, 165), (113, 165)], "black")
lead([(127, 165), (139, 172)], "black")
lead([(71, 179), (139, 179)], "#00a000")
lead([(80, 190), (135, 190)], "#00a000")
lead([(70, 201), (112, 201)], "#2040d0")
lead([(127, 201), (160, 171)], "#2040d0")
lead([(81, 212), (127, 212), (160, 180)], "#2040d0")
lead([(95, 224), (143, 224), (147, 220)], "#ff0000")
lead([(52, 264), (132, 264), (137, 262)], "black")
lead([(110, 334), (115, 334)], "#ff0000")
lead([(130, 334), (138, 316)], "#ff0000")
lead([(106, 349), (130, 349), (145, 340)], "#ff0000")
lead([(92, 367), (136, 367)], "#00008c")
lead([(86, 410), (140, 410)], "#00008c")
lead([(100, 431), (133, 430), (183, 447)], BRN)
lead([(57, 468), (127, 468), (190, 456)], "black")
lead([(55, 480), (143, 480)], "#505050")
lead([(55, 490), (130, 490), (143, 502)], "#999999")
lead([(55, 501), (130, 501), (140, 505)], "#dddddd")
lead([(55, 511), (140, 511)], SKY)
lead([(55, 513), (140, 513)], SKY)
lead([(67, 527), (130, 527), (172, 463)], ORG)
lead([(55, 555), (185, 555)], SKY)
lead([(55, 557), (185, 557)], SKY)
lead([(50, 571), (192, 571)], "#999999")
lead([(38, 582), (122, 582)], "#333333")
lead([(74, 594), (140, 594)], "#333333")
lead([(30, 605), (218, 605), (220, 600)], "#ffb000")
lead([(140, 622), (150, 622), (158, 610)], "black")

fig.update_layout(
    width=W, height=H, autosize=False, margin=dict(l=0, r=0, t=0, b=0),
    paper_bgcolor="white", plot_bgcolor="rgba(0,0,0,0)", showlegend=False, barmode="overlay",
    font=dict(family=FONT, size=12), shapes=shapes, annotations=annots, **layout,
)

fig.write_html("out.html", post_script="document.body.style.margin='0';", config={"displayModeBar": False})
